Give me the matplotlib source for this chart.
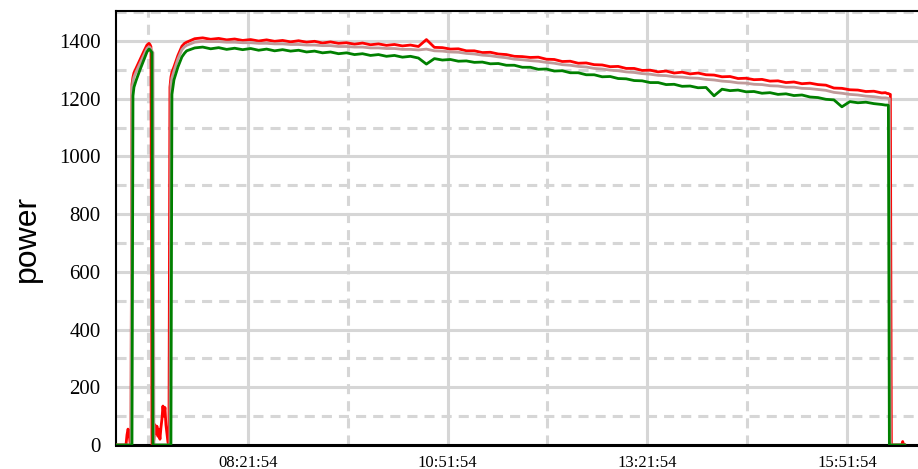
import matplotlib
matplotlib.use("Agg")
import matplotlib.pyplot as plt
import matplotlib.dates as mdates
from matplotlib.ticker import MultipleLocator, FixedLocator
import pandas as pd

DAY = "2020-01-01 "

# --- start-up phase: (time, red, grey, green) ---
start_times = ["06:42:54", "06:50:24", "06:51:09", "06:51:54", "06:52:39", "06:53:24",
               "06:54:09", "06:54:54", "06:55:39", "06:56:24", "06:57:54", "07:00:54",
               "07:03:54", "07:06:09", "07:07:39", "07:08:24", "07:09:09", "07:09:54",
               "07:10:39", "07:11:24", "07:12:09", "07:12:54", "07:13:39", "07:14:24",
               "07:15:09", "07:15:54", "07:16:39", "07:17:24", "07:18:09", "07:18:54",
               "07:19:39", "07:20:24", "07:21:09", "07:21:54", "07:22:39", "07:23:24",
               "07:24:09", "07:24:54", "07:26:24", "07:29:24", "07:32:24", "07:34:24"]
start_red = [0, 0, 35, 55, 45, 10, 0, 1250, 1275, 1290, 1305, 1335, 1365, 1386, 1392,
             1388, 1380, 0, 0, 20, 70, 40, 65, 30, 55, 20, 60, 90, 135, 100, 130, 70,
             40, 10, 0, 1240, 1275, 1292, 1310, 1350, 1382, 1392]
start_grey = [0, 0, 0, 0, 0, 0, 0, 1230, 1260, 1275, 1292, 1322, 1352, 1374, 1380,
              1378, 1372, 1365, 1360, 0, 0, 0, 0, 0, 0, 0, 0, 0, 0, 0, 0, 0,
              0, 0, 0, 0, 1250, 1272, 1295, 1338, 1370, 1380]
start_green = [0, 0, 0, 0, 0, 0, 0, 0, 1210, 1240, 1262, 1300, 1335, 1362, 1372,
               1370, 1365, 1360, 0, 0, 0, 0, 0, 0, 0, 0, 0, 0, 0, 0, 0, 0,
               0, 0, 0, 0, 0, 1215, 1265, 1310, 1345, 1358]

# --- steady running, one reading every 6 minutes from 07:36 to 16:18 ---
run_start, run_end, run_step = "07:36", "16:18", "6min"
run_red = [1396, 1408, 1411, 1406, 1409, 1404, 1407, 1402, 1405, 1400,
           1404, 1399, 1402, 1397, 1401, 1396, 1399, 1393, 1397, 1392,
           1394, 1389, 1393, 1387, 1390, 1385, 1388, 1383, 1386, 1381,
           1405, 1378, 1377, 1372, 1373, 1366, 1366, 1360, 1361, 1355,
           1353, 1347, 1346, 1343, 1344, 1337, 1336, 1329, 1330, 1323,
           1324, 1318, 1317, 1311, 1312, 1305, 1305, 1298, 1299, 1293,
           1296, 1289, 1292, 1286, 1289, 1283, 1282, 1276, 1277, 1270,
           1271, 1266, 1267, 1261, 1262, 1256, 1258, 1252, 1254, 1249,
           1247, 1237, 1236, 1231, 1230, 1225, 1226, 1220]
run_grey = [1385, 1396, 1399, 1398, 1398, 1396, 1396, 1394, 1394, 1392,
            1392, 1390, 1390, 1388, 1388, 1386, 1386, 1384, 1384, 1381,
            1381, 1379, 1379, 1376, 1376, 1374, 1374, 1371, 1371, 1369,
            1372, 1366, 1365, 1362, 1361, 1357, 1355, 1351, 1349, 1345,
            1342, 1337, 1335, 1332, 1330, 1326, 1323, 1318, 1316, 1312,
            1310, 1305, 1303, 1299, 1297, 1293, 1291, 1287, 1285, 1281,
            1280, 1276, 1275, 1272, 1271, 1267, 1265, 1261, 1259, 1255,
            1254, 1250, 1249, 1245, 1244, 1240, 1240, 1236, 1235, 1232,
            1229, 1222, 1219, 1215, 1213, 1209, 1207, 1203]
run_green = [1366, 1376, 1379, 1373, 1377, 1371, 1375, 1370, 1374, 1368,
             1372, 1366, 1370, 1365, 1368, 1362, 1365, 1359, 1362, 1356,
             1359, 1353, 1356, 1350, 1353, 1347, 1350, 1344, 1347, 1341,
             1320, 1339, 1334, 1336, 1330, 1331, 1326, 1327, 1321, 1322,
             1316, 1316, 1309, 1309, 1302, 1303, 1296, 1297, 1290, 1290,
             1283, 1283, 1276, 1277, 1270, 1269, 1263, 1262, 1256, 1256,
             1249, 1250, 1243, 1244, 1238, 1239, 1210, 1233, 1228, 1230,
             1224, 1225, 1219, 1221, 1215, 1217, 1211, 1213, 1206, 1204,
             1198, 1196, 1172, 1190, 1186, 1188, 1183, 1180]

# --- shut-down phase ---
stop_times = ["16:20:39", "16:22:09", "16:22:54", "16:23:39", "16:24:24", "16:25:09",
              "16:32:54", "16:33:39", "16:34:24", "16:35:09"]
stop_red = [1221, 1218, 1218, 1216, 1215, 0, 0, 12, 0, 0]
stop_grey = [1203, 1202, 1201, 1200, 0, 0, 0, 0, 0, 0]
stop_green = [1178, 1178, 1177, 0, 0, 0, 0, 0, 0, 0]

x_start, x_end = "06:42:54", "16:45:09"
major_ticks = ["08:21:54", "10:51:54", "13:21:54", "15:51:54"]
minor_ticks = ["07:06:54", "09:36:54", "12:06:54", "14:36:54"]


def stamps(times):
    return [pd.Timestamp(DAY + t) for t in times]


run_times = list(pd.date_range(DAY + run_start, DAY + run_end, freq=run_step))
times = stamps(start_times) + run_times + stamps(stop_times)
red = start_red + run_red + stop_red
grey = start_grey + run_grey + stop_grey
green = start_green + run_green + stop_green

fig = plt.figure(figsize=(9.18, 4.69), dpi=100)
ax = fig.add_axes([116 / 918, 24 / 469, 1 - 116 / 918, 434 / 469])

grid_col = "#d6d6d6"
dash = (0, (3.3, 2.3))

ax.plot(times, red, color="#ff0000", lw=2.0, zorder=3)
ax.plot(times, grey, color="#c09a9a", lw=2.0, zorder=4)
ax.plot(times, green, color="#008000", lw=2.0, zorder=5)

ax.set_ylim(0, 1504)
ax.set_xlim(pd.Timestamp(DAY + x_start), pd.Timestamp(DAY + x_end))

ax.yaxis.set_major_locator(MultipleLocator(200))
ax.yaxis.set_minor_locator(FixedLocator(list(range(100, 1600, 200))))
ax.xaxis.set_major_locator(FixedLocator([mdates.date2num(t) for t in stamps(major_ticks)]))
ax.xaxis.set_minor_locator(FixedLocator([mdates.date2num(t) for t in stamps(minor_ticks)]))
ax.xaxis.set_major_formatter(mdates.DateFormatter("%H:%M:%S"))

ax.grid(which="major", color=grid_col, lw=2.2, ls="-", zorder=0)
ax.grid(which="minor", color=grid_col, lw=2.2, ls=dash, zorder=0)
ax.set_axisbelow(True)

ax.tick_params(axis="both", which="both", length=0)
ax.tick_params(axis="y", pad=11, labelsize=15)
ax.tick_params(axis="x", pad=7, labelsize=12)
for lab in ax.get_xticklabels() + ax.get_yticklabels():
    lab.set_fontfamily("Liberation Serif")

for side in ("left", "top"):
    ax.spines[side].set_linewidth(1.5)
    ax.spines[side].set_color("black")
ax.spines["bottom"].set_linewidth(2.2)
ax.spines["right"].set_visible(False)

fig.text(27 / 918, 1 - 238 / 469, "power", rotation=90, ha="center", va="center",
         fontsize=23, family="Liberation Sans")

fig.savefig("out.png", dpi=100)
